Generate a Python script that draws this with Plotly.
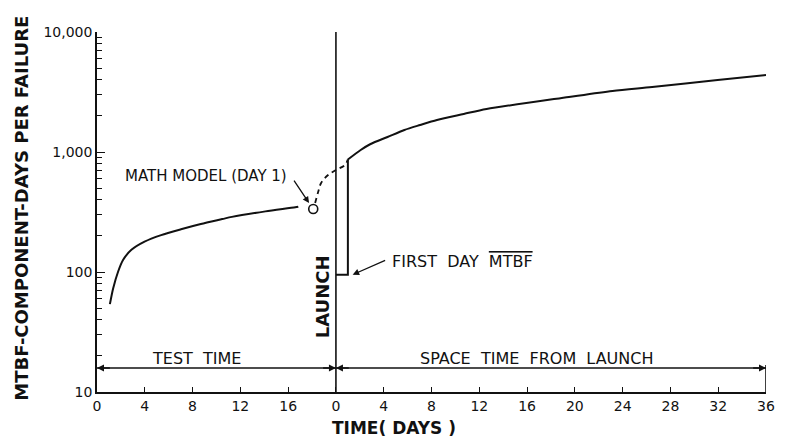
import math
import plotly.graph_objects as go

# ---- data (x in days on a combined axis: test days 0-20, launch at 20, space days after) ----
LAUNCH_DAY = 20
X_MAX = 56

test_days = [1.08, 1.35, 1.77, 2.18, 2.88, 3.98, 5.37, 7.03, 8.69, 10.48, 11.29, 14.1, 16.6, 16.85]
test_mtbf = [54, 73, 101, 126, 153, 179, 203, 227, 251, 276, 288, 320, 346, 350]

model_day = [18.1]
model_mtbf = [335]

dash_days = [18.26, 18.51, 18.76, 19.34, 20.0, 20.75, 21.0]
dash_mtbf = [376, 464, 552, 643, 708, 779, 865]

step_days = [20.0, 21.0, 21.0]
step_mtbf = [95, 95, 865]

space_days = [21.0, 22.07, 22.9, 24.32, 25.73, 27.05, 28.46, 30.7, 32.61, 39.5, 43.15, 46.47, 51.95, 56.0]
space_mtbf = [865, 1039, 1166, 1334, 1526, 1679, 1848, 2073, 2282, 2872, 3224, 3481, 3981, 4384]

x_tickvals = [0, 4, 8, 12, 16, 20, 24, 28, 32, 36, 40, 44, 48, 52, 56]
x_ticktext = ["0", "4", "8", "12", "16", "0", "4", "8", "12", "16", "20", "24", "28", "32", "36"]
y_tickvals = [10, 100, 1000, 10000]
y_ticktext = ["10", "100", "1,000", "10,000"]
y_minor = [m * 10 ** k for k in (1, 2, 3) for m in range(2, 10)]

span_y = 15.85        # level of the TEST / SPACE time span arrows
bar_top = 16.8

INK = "#111"
FONT = "DejaVu Sans"
L = math.log10  # annotations on a log axis are placed in log10 units

fig = go.Figure()
fig.add_trace(go.Scatter(x=test_days, y=test_mtbf, mode="lines",
                         line=dict(color=INK, width=2, shape="spline", smoothing=0.8), hoverinfo="skip"))
fig.add_trace(go.Scatter(x=dash_days, y=dash_mtbf, mode="lines",
                         line=dict(color=INK, width=1.8, dash="5px,4px", shape="spline"), hoverinfo="skip"))
fig.add_trace(go.Scatter(x=step_days, y=step_mtbf, mode="lines",
                         line=dict(color=INK, width=2), hoverinfo="skip"))
fig.add_trace(go.Scatter(x=space_days, y=space_mtbf, mode="lines",
                         line=dict(color=INK, width=2, shape="spline", smoothing=0.8), hoverinfo="skip"))
fig.add_trace(go.Scatter(x=model_day, y=model_mtbf, mode="markers",
                         marker=dict(symbol="circle-open", size=9, color=INK, line=dict(width=1.6)),
                         hoverinfo="skip"))

# launch line, span line and right end bar
fig.add_shape(type="line", x0=LAUNCH_DAY, x1=LAUNCH_DAY, y0=10, y1=10000,
              xref="x", yref="y", line=dict(color=INK, width=1.6))
fig.add_shape(type="line", x0=X_MAX, x1=X_MAX, y0=10, y1=bar_top,
              xref="x", yref="y", line=dict(color=INK, width=1.6))
fig.add_shape(type="line", x0=0, x1=X_MAX, y0=span_y, y1=span_y,
              xref="x", yref="y", line=dict(color=INK, width=1.4))

annos = []
# arrowheads at the ends of the two time spans
for (a, b) in [(0, LAUNCH_DAY), (LAUNCH_DAY, X_MAX)]:
    for end, tail in ((a, a + 1.2), (b, b - 1.2)):
        annos.append(dict(x=end, y=L(span_y), ax=tail, ay=L(span_y), xref="x", yref="y",
                          axref="x", ayref="y", text="", showarrow=True,
                          arrowhead=2, arrowsize=1, arrowwidth=1.4, arrowcolor=INK))

annos += [
    dict(x=8.35, y=L(19.2), text="TEST  TIME", showarrow=False,
         font=dict(family=FONT, size=16, color=INK)),
    dict(x=36.8, y=L(19.2), text="SPACE  TIME  FROM  LAUNCH", showarrow=False,
         font=dict(family=FONT, size=16, color=INK)),
    dict(x=18.95, y=L(62), text="<b>LAUNCH</b>", textangle=-90, showarrow=False,
         font=dict(family=FONT, size=18, color=INK)),
    dict(x=2.15, y=L(630), text="MATH MODEL (DAY 1)", xanchor="left", showarrow=False,
         font=dict(family=FONT, size=15, color=INK)),
    dict(x=17.75, y=L(375), ax=-16, ay=-24, text="", showarrow=True,
         arrowhead=2, arrowsize=1, arrowwidth=1.3, arrowcolor=INK),
    dict(x=24.5, y=L(122), text='FIRST  DAY  <span style="text-decoration:overline">MTBF</span>',
         xanchor="left", showarrow=False,
         font=dict(family=FONT, size=16, color=INK)),
    dict(x=21.4, y=L(95), ax=34, ay=-15, text="", showarrow=True,
         arrowhead=2, arrowsize=1, arrowwidth=1.3, arrowcolor=INK),
    dict(x=-0.114, y=0.511, xref="paper", yref="paper", xanchor="center", yanchor="middle",
         text="<b>MTBF-COMPONENT-DAYS PER FAILURE</b>",
         textangle=-90, showarrow=False, font=dict(family=FONT, size=18, color=INK)),
    dict(x=0.444, y=-0.1, xref="paper", yref="paper", xanchor="center", yanchor="middle",
         text="<b>TIME( DAYS )</b>",
         showarrow=False, font=dict(family=FONT, size=17, color=INK)),
]

fig.update_layout(
    width=787, height=440,
    margin=dict(l=97, r=15, t=32, b=48),
    paper_bgcolor="white", plot_bgcolor="white",
    showlegend=False,
    annotations=annos,
    font=dict(family=FONT, color=INK),
    xaxis=dict(range=[0, X_MAX], tickmode="array", tickvals=x_tickvals, ticktext=x_ticktext,
               ticks="inside", ticklen=5, tickwidth=1.3, tickcolor=INK,
               showline=True, linecolor=INK, linewidth=1.6, showgrid=False, zeroline=False,
               tickfont=dict(family=FONT, size=14, color=INK)),
    yaxis=dict(type="log", range=[1, 4], tickmode="array", tickvals=y_tickvals, ticktext=y_ticktext,
               ticks="inside", ticklen=8, tickwidth=1.3, tickcolor=INK,
               minor=dict(tickmode="array", tickvals=y_minor, ticks="inside", ticklen=5,
                          tickwidth=1, tickcolor=INK, showgrid=False),
               showline=True, linecolor=INK, linewidth=1.6, showgrid=False, zeroline=False,
               tickfont=dict(family=FONT, size=14, color=INK)),
)

fig.write_html("out.html", config={"displayModeBar": False},
               post_script="document.body.style.margin='0';document.body.style.overflow='hidden';")
